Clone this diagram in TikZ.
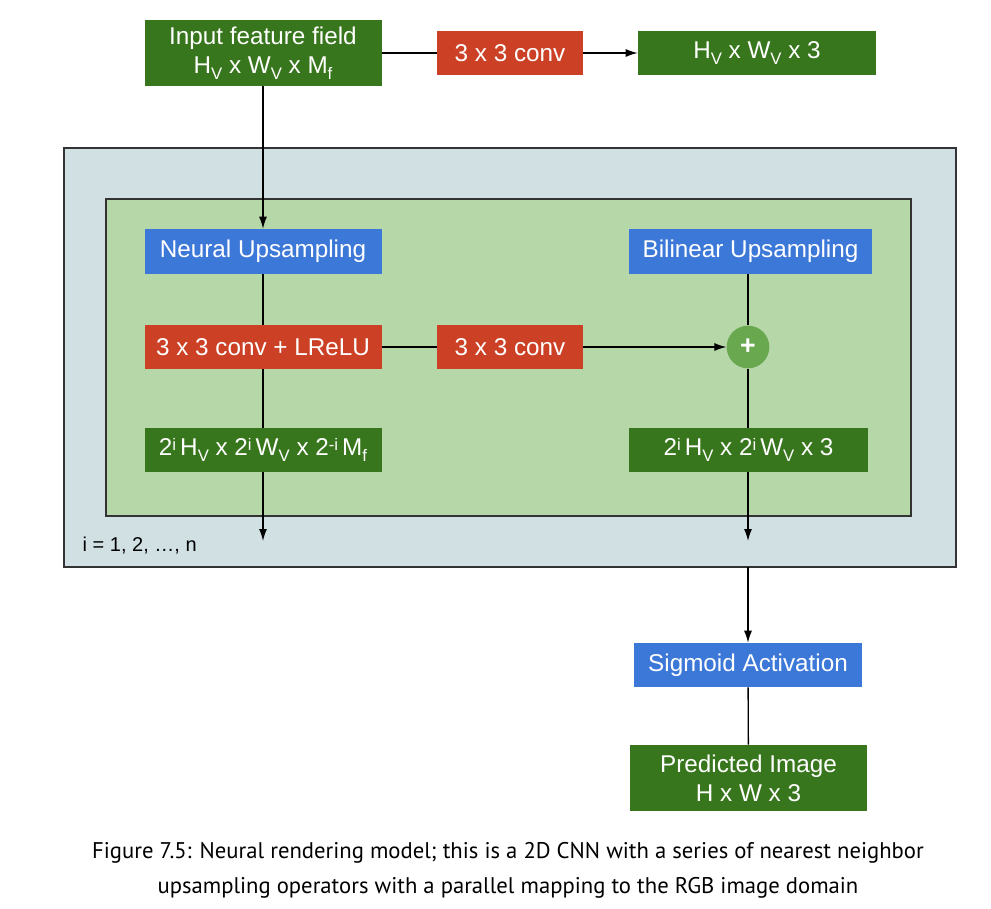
\documentclass[tikz,border=0pt]{standalone}
\usepackage{fontspec}
\setmainfont{Liberation Sans}
\newfontfamily\capfont{PT Sans}
\usetikzlibrary{arrows.meta}
\definecolor{boxgreen}{HTML}{38761D}
\definecolor{boxred}{HTML}{CC4125}
\definecolor{boxblue}{HTML}{3C78D8}
\definecolor{plusgreen}{HTML}{6AA84F}
\definecolor{outerfill}{HTML}{D0E0E3}
\definecolor{innerfill}{HTML}{B6D7A8}
% lowered and raised small letters of the tensor sizes
\newcommand{\dn}[1]{\raisebox{-4.5pt}{\fontsize{12.5}{12}\selectfont #1}}
\newcommand{\up}[1]{\raisebox{4pt}{\fontsize{12.5}{12}\selectfont #1}\,}
\tikzset{
    blk/.style={text=white, inner sep=0pt, align=center,
        font=\fontsize{18.2}{21.5}\selectfont},
    tensor/.style={blk, fill=boxgreen, minimum height=33pt},
    conv/.style={blk, fill=boxred, minimum height=33pt},
    upsmp/.style={blk, fill=boxblue, minimum height=33.75pt},
    flow/.style={-{Latex[length=9pt,width=6pt]}, line width=1pt},
    link/.style={line width=1pt},
}
\begin{document}
\begin{tikzpicture}[x=0.75pt, y=-0.75pt]
        \useasboundingbox[fill=white] (0,0) rectangle (991,909);
        % loop frame and stage frame
        \draw[fill=outerfill, draw=black!80, line width=0.8pt] (64,148) rectangle (956,567);
        \draw[fill=innerfill, draw=black!80, line width=0.8pt] (106,199) rectangle (911,516);
        \coordinate (loopout) at (748,567);
        % top row
        \node[tensor, minimum width=177.75pt, minimum height=49.5pt] (input) at (263,53)
            {Input feature field\\H\dn{V} x W\dn{V} x M\dn{f}};
        \node[conv, minimum width=109.5pt] (convtop) at (510,53) {3 x 3 conv};
        \node[tensor, minimum width=178.5pt] (rgbtop) at (757,53)
            {H\dn{V} x W\dn{V} x 3};
        % upsampling stage
        \node[upsmp, minimum width=177.75pt] (neural) at (263,251.5) {Neural Upsampling};
        \node[upsmp, minimum width=182.25pt] (bilinear) at (750.5,251.5) {Bilinear Upsampling};
        \node[conv, minimum width=177.75pt] (lrelu) at (263,347) {3 x 3 conv + LReLU};
        \node[conv, minimum width=109.5pt] (convmid) at (510,347) {3 x 3 conv};
        \node[circle, fill=plusgreen, text=white, minimum size=32pt, inner sep=0pt,
            font=\fontsize{20}{20}\selectfont\bfseries] (plus) at (748,347) {+};
        \node[tensor, minimum width=177.75pt] (featout) at (263,450)
            {2\up{i}H\dn{V} x 2\up{i}W\dn{V} x 2\up{-i}M\dn{f}};
        \node[tensor, minimum width=179.25pt] (rgbout) at (748.5,450)
            {2\up{i}H\dn{V} x 2\up{i}W\dn{V} x 3};
        \coordinate (featnext) at (263,541);
        \coordinate (rgbnext) at (748,541);
        \node[anchor=west, font=\fontsize{15}{18}\selectfont] (iter) at (78,546) {i = 1, 2, …, n};
        % output
        \node[upsmp, minimum width=171pt, minimum height=33pt] (sigmoid) at (748,665) {Sigmoid Activation};
        \node[tensor, minimum width=177.75pt, minimum height=49.5pt] (pred) at (748.5,778)
            {Predicted Image\\H x W x 3};
        % connectors
        \draw[link] (input) -- (convtop);
        \draw[flow] (convtop) -- (rgbtop);
        \draw[flow] (input) -- (neural);
        \draw[link] (neural) -- (lrelu);
        \draw[link] (lrelu) -- (featout);
        \draw[flow] (featout) -- (featnext);
        \draw[link] (lrelu) -- (convmid);
        \draw[flow] (convmid) -- (plus);
        \draw[link] (bilinear.south -| plus) -- (plus);
        \draw[link] (plus) -- (rgbout.north -| plus);
        \draw[flow] (rgbout.south -| plus) -- (rgbnext);
        \draw[flow] (loopout) -- (sigmoid);
        \draw[link] (sigmoid) -- (pred);
        % caption
        \node[font=\capfont\fontsize{17}{26}\selectfont, align=center] (caption) at (508,870)
            {Figure 7.5: Neural rendering model; this is a 2D CNN with a series of nearest neighbor\\
             upsampling operators with a parallel mapping to the RGB image domain};
    \end{tikzpicture}
\end{document}
